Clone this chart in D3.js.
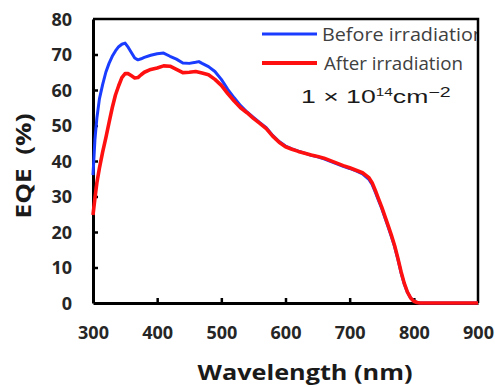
<!DOCTYPE html>
<html>
<head>
<meta charset="utf-8">
<script src="https://cdn.jsdelivr.net/npm/d3@7"></script>
<style>
  body { margin: 0; background: #fff; }
  svg { display: block; }
</style>
</head>
<body>
<div id="chart"></div>
<script>
// wavelength (nm) and EQE (%)
var wavelength = [300,303,306,310,315,320,325,330,335,340,345,350,355,360,365,370,375,380,390,400,410,420,430,440,450,460,465,470,480,490,500,510,520,530,540,550,560,570,580,590,600,610,620,630,640,650,660,670,680,690,700,710,720,730,735,740,745,750,755,760,765,770,775,780,785,790,795,800,805,810,820,850,900]

var before = [36,46,52,57.5,61.5,65,67.5,69.5,71,72.2,72.9,73.2,72,70.5,69,68.5,68.8,69.2,69.8,70.2,70.4,69.5,68.7,67.6,67.5,67.8,68,67.5,66.6,65.2,63,60.2,57.8,55.6,53.8,52.3,50.8,49.4,47.2,45.5,44.2,43.4,42.8,42.2,41.6,41.2,40.6,39.9,39.2,38.5,37.9,37.2,36.4,34.8,33.4,31.2,28.9,26.6,24,21.4,18.7,15.9,12.4,8.6,5.4,3,1.4,0.5,0.15,0,0,0,0]

var after = [24.8,29.5,33.8,38,42.5,46.5,50.8,55,58.6,61.2,63.5,64.6,64.6,64,63.4,63.5,64.3,65,65.8,66.2,66.8,66.7,65.8,64.9,65,65.2,65,64.8,64.3,63,61.3,59,56.9,55,53.6,52,50.6,49.1,47,45.3,44,43.3,42.7,42.2,41.7,41.3,40.8,40.1,39.4,38.7,38.1,37.4,36.7,35.3,33.9,31.7,29.3,27,24.4,21.8,19.1,16.2,12.7,8.9,5.6,3.1,1.4,0.5,0.15,0,0,0,0]

var series_names = ["Before irradiation", "After irradiation"]
var series_colors = ["#1a3cff", "#ff1010"]

var x_ticks = [300,400,500,600,700,800,900]
var y_ticks = [0,10,20,30,40,50,60,70,80]

var margin = {top: 19, right: 17, bottom: 84, left: 93};

var width = 495 - margin.left - margin.right,
    height = 387 - margin.top - margin.bottom

var svg = d3.select("#chart")
  .append("svg")
  .attr("width", 495)
  .attr("height", 387)

svg.append("defs").append("clipPath")
  .attr("id", "frame-clip")
  .append("rect")
  .attr("x", 0).attr("y", 0)
  .attr("width", margin.left + width - 1).attr("height", 387)

var g = svg.append("g")
  .attr("transform", "translate(" + margin.left + "," + margin.top + ")")

var x = d3.scaleLinear()
  .range([0, width])
  .domain([300, 900])

var y = d3.scaleLinear()
  .range([height, 0])
  .domain([0, 80])

// axes (ticks point inward)
var x_axis = g.append("g")
  .attr("transform", "translate(0," + height + ")")
  .call(d3.axisBottom(x).tickValues(x_ticks).tickSizeInner(-5).tickSizeOuter(0).tickPadding(25))

var y_axis = g.append("g")
  .call(d3.axisLeft(y).tickValues(y_ticks).tickSizeInner(-5).tickSizeOuter(0).tickPadding(21))

;[x_axis, y_axis].forEach(function(a){
  a.select(".domain").attr("stroke", "#000").attr("stroke-width", 3)
  a.selectAll(".tick line").attr("stroke", "#000").attr("stroke-width", 2.5)
  a.selectAll(".tick text")
    .attr("fill", "#262626")
    .style("font-family", "'Open Sans', sans-serif")
    .style("font-weight", "bold")
    .style("font-size", "18px")
})
x_axis.selectAll(".tick text").attr("dy", 0).attr("y", 320 - height)
y_axis.selectAll(".tick text").attr("dy", "0.35em")
x_axis.selectAll(".tick line").filter(function(d){return d == 300 || d == 900}).remove()
y_axis.selectAll(".tick line").filter(function(d){return d == 0 || d == 80}).remove()

// frame top and right
g.append("path")
  .attr("d", "M0,0H" + width + "V" + height)
  .attr("fill", "none")
  .attr("stroke", "#000")
  .attr("stroke-width", 2.5)

// lines, drawn over the axes
var line = d3.line()
  .x(function(d){return x(d[0])})
  .y(function(d){return y(d[1])})

var curves = [before, after]
curves.forEach(function(vals, i){
  g.append("path")
    .datum(wavelength.map(function(w, j){return [w, vals[j]]}))
    .attr("fill", "none")
    .attr("stroke", series_colors[i])
    .attr("stroke-width", i == 0 ? 3 : 3.6)
    .attr("stroke-linejoin", "round")
    .attr("d", line)
})

// legend
var legend = svg.append("g").attr("clip-path", "url(#frame-clip)")
var legend_y = [34, 63]
var legend_w = [163, 139]
series_names.forEach(function(name, i){
  legend.append("line")
    .attr("x1", 262).attr("x2", 317)
    .attr("y1", legend_y[i]).attr("y2", legend_y[i])
    .attr("stroke", series_colors[i])
    .attr("stroke-width", i == 0 ? 3 : 4)
  legend.append("text")
    .attr("x", i == 0 ? 322 : 324)
    .attr("y", legend_y[i] + 7)
    .attr("fill", "#404040")
    .attr("textLength", legend_w[i])
    .attr("lengthAdjust", "spacingAndGlyphs")
    .style("font-family", "'Open Sans', sans-serif")
    .style("font-size", "19px")
    .text(name)
})

// fluence note
var note = svg.append("text")
  .attr("transform", "translate(301,103) scale(1.4,1)")
  .attr("fill", "#1a1a1a")
  .style("font-family", "'Liberation Sans', Arial, sans-serif")
  .style("font-size", "19px")
note.append("tspan").text("1 × 10")
note.append("tspan").attr("dy", -7).style("font-size", "11px").text("14")
note.append("tspan").attr("dy", 7).text("cm")
note.append("tspan").attr("dy", -6).style("font-size", "14px").text("−2")

// axis titles
svg.append("text")
  .attr("x", 305)
  .attr("y", 380)
  .attr("text-anchor", "middle")
  .attr("fill", "#1a1a1a")
  .attr("textLength", 215)
  .attr("lengthAdjust", "spacingAndGlyphs")
  .style("font-family", "'Open Sans', sans-serif")
  .style("font-weight", "bold")
  .style("font-size", "22px")
  .text("Wavelength (nm)")

svg.append("text")
  .attr("transform", "translate(31,166) rotate(-90)")
  .attr("text-anchor", "middle")
  .attr("fill", "#1a1a1a")
  .attr("textLength", 105)
  .attr("lengthAdjust", "spacingAndGlyphs")
  .style("font-family", "'Open Sans', sans-serif")
  .style("font-weight", "bold")
  .style("font-size", "22px")
  .style("white-space", "pre")
  .text("EQE  (%)")
</script>
</body>
</html>
